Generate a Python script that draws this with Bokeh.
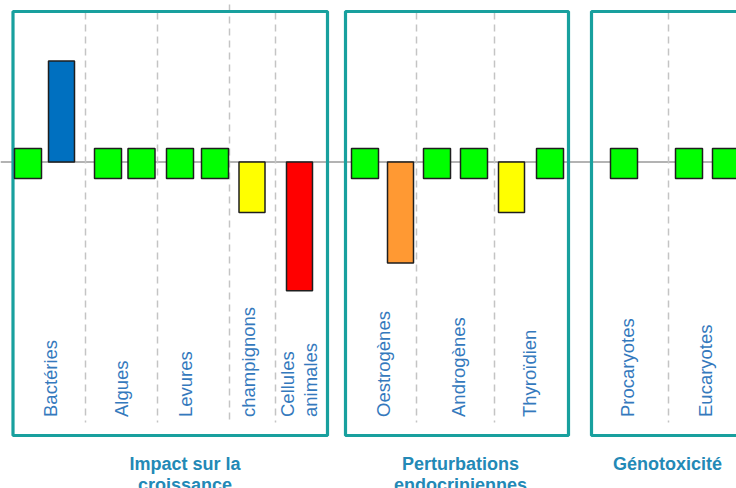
import numpy as np
from bokeh.plotting import figure
from bokeh.models import Range1d, ColumnDataSource, Span
from bokeh.embed import file_html
from bokeh.resources import INLINE
from bokeh.core.properties import value

# ---------------- data ----------------
groups = ["Impact sur la\ncroissance", "Perturbations\nendocriniennes", "Génotoxicité"]
categories = ["Bactéries", "Algues", "Levures", "champignons", "Cellules\nanimales",
              "Oestrogènes", "Androgènes", "Thyroïdien", "Procaryotes", "Eucaryotes"]
category_group = [0, 0, 0, 0, 0, 1, 1, 1, 2, 2]
item_category = [0, 0, 1, 1, 2, 2, 3, 4, 5, 5, 6, 6, 7, 7, 8, 9, 9]
item_value = [0, 2, 0, 0, 0, 0, -1, -2.55, 0, -2, 0, 0, -1, 0, 0, 0, 0]
item_effect = ["aucun", "stimulation", "aucun", "aucun", "aucun", "aucun", "faible", "fort",
               "aucun", "moyen", "aucun", "aucun", "faible", "aucun", "aucun", "aucun", "aucun"]

# ---------------- styles / layout ----------------
effect_colors = {"aucun": "#00ff00", "stimulation": "#0070c0", "faible": "#ffff00",
                 "moyen": "#ff9933", "fort": "#ff0000"}
item_x = [27.5, 61, 107.5, 141, 179.5, 214.5, 251.5, 299, 364.5, 400, 436.5, 473.5,
          511, 549.5, 623.5, 688.5, 725.5]
cat_label_x = [50, 121, 185, 248, 298.5, 383, 458, 529, 627, 705]
divider_x = [85, 157, 229, 275, 416, 494, 668]
divider_top = [12, 12, 4, 12, 12, 12, 12]
panel_lr = [(12.5, 327), (345, 568), (591, 770)]
group_title_x = [184.5, 460, 667]

PX = 50.5      # pixels per value unit
BASE = 161.5   # screen y of the zero line


def Y(sy):
    return (BASE - sy) / PX


TEAL = "#18a09e"
LABEL = "#3479bd"
TITLE = "#2389b6"
FONT = value("Liberation Sans")

p = figure(width=736, height=488, output_backend="svg", toolbar_location=None,
           x_range=Range1d(0, 736), y_range=Range1d(Y(488), Y(0)),
           x_axis_location=None, y_axis_location=None, min_border=0)
p.outline_line_color = None
p.xgrid.visible = False
p.ygrid.visible = False
p.background_fill_color = "white"
p.border_fill_color = "white"

# zero line
p.add_layout(Span(location=0, dimension="width", line_color="#9a9a9a",
                  line_width=1.5, level="underlay"))

# dashed dividers
p.segment(x0=divider_x, x1=divider_x, y0=[Y(t) for t in divider_top],
          y1=[Y(422)] * len(divider_x), line_color="#c4c4c4", line_width=1.5,
          line_dash="7 5")

# panels
p.quad(left=[a for a, b in panel_lr], right=[b for a, b in panel_lr],
       top=[Y(11)] * 3, bottom=[Y(435)] * 3, fill_color=None,
       line_color=TEAL, line_width=3.2)

# bars (non-zero effects)
bars = [i for i, v in enumerate(item_value) if item_effect[i] != "aucun"]
bsrc = ColumnDataSource(dict(
    x=[item_x[i] for i in bars],
    top=[max(item_value[i], 0) for i in bars],
    bottom=[min(item_value[i], 0) for i in bars],
    color=[effect_colors[item_effect[i]] for i in bars]))
p.vbar(x="x", top="top", bottom="bottom", width=26, fill_color="color",
       line_color="#1e1e1e", line_width=1.5, source=bsrc)

# markers for "no effect"
zeros = [i for i in range(len(item_value)) if item_effect[i] == "aucun"]
zsrc = ColumnDataSource(dict(
    x=[item_x[i] for i in zeros],
    y=[item_value[i] + Y(163) for i in zeros],
    color=[effect_colors[item_effect[i]] for i in zeros]))
p.rect(x="x", y="y", width=27, height=30, height_units="screen", fill_color="color",
       line_color="#1e1e1e", line_width=1.5, source=zsrc)

# category labels (rotated)
lx, ly, lt = [], [], []
for c, name in enumerate(categories):
    lines = name.split("\n")
    n = len(lines)
    for k, ln in enumerate(lines):
        lx.append(cat_label_x[c] + (k - (n - 1) / 2) * 23)
        ly.append(Y(416.5))
        lt.append(ln)
p.text(x=lx, y=ly, text=lt, angle=np.pi / 2, text_align="left",
       text_baseline="middle", text_font=FONT, text_font_size="18.5px",
       text_color=LABEL)

# group titles
tx, ty, tt = [], [], []
for g, name in enumerate(groups):
    for k, ln in enumerate(name.split("\n")):
        tx.append(group_title_x[g])
        ty.append(Y(463 + 21 * k))
        tt.append(ln)
p.text(x=tx, y=ty, text=tt, text_align="center", text_baseline="alphabetic",
       text_font=FONT, text_font_style="bold", text_font_size="18px",
       text_color=TITLE)

open("out.html", "w").write(file_html(p, INLINE))
